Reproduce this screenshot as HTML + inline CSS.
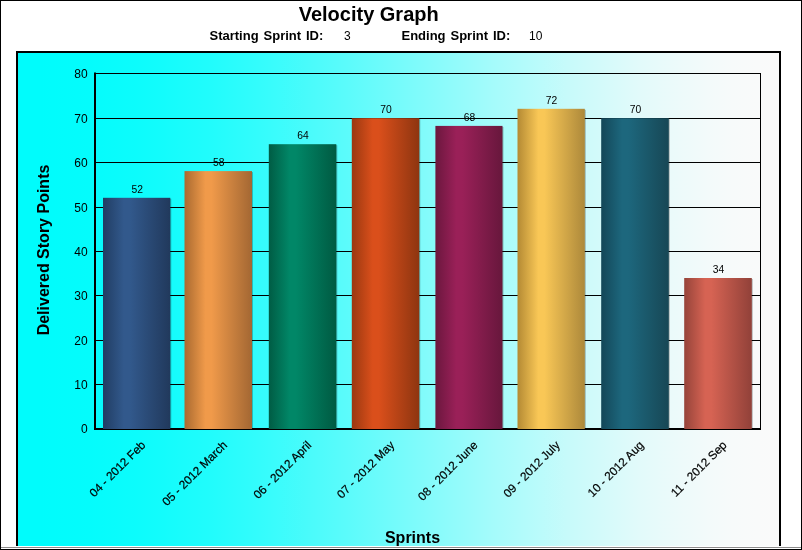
<!DOCTYPE html>
<html><head><meta charset="utf-8"><title>Velocity Graph</title>
<style>
html,body{margin:0;padding:0;background:#fff;}
body{width:802px;height:550px;overflow:hidden;position:relative;font-family:"Liberation Sans",Arial,sans-serif;}
svg{position:absolute;left:0;top:0;display:block;}
text{font-family:"Liberation Sans",Arial,sans-serif;fill:#000;}
</style></head><body>
<svg width="802" height="550" viewBox="0 0 802 550">
<defs>
<linearGradient id="bg" x1="0" y1="0" x2="1" y2="0">
<stop offset="0.0000" stop-color="#00fcfc"/>
<stop offset="0.0312" stop-color="#00fcfc"/>
<stop offset="0.0625" stop-color="#02fcfc"/>
<stop offset="0.0938" stop-color="#04fcfc"/>
<stop offset="0.1250" stop-color="#08fcfc"/>
<stop offset="0.1562" stop-color="#0cfcfc"/>
<stop offset="0.1875" stop-color="#12fcfc"/>
<stop offset="0.2188" stop-color="#19fcfc"/>
<stop offset="0.2500" stop-color="#20fcfc"/>
<stop offset="0.2812" stop-color="#29fcfc"/>
<stop offset="0.3125" stop-color="#32fcfc"/>
<stop offset="0.3438" stop-color="#3cfcfc"/>
<stop offset="0.3750" stop-color="#47fbfb"/>
<stop offset="0.4062" stop-color="#52fbfb"/>
<stop offset="0.4375" stop-color="#5dfbfb"/>
<stop offset="0.4688" stop-color="#69fbfb"/>
<stop offset="0.5000" stop-color="#75fbfb"/>
<stop offset="0.5312" stop-color="#81fbfb"/>
<stop offset="0.5625" stop-color="#8dfbfb"/>
<stop offset="0.5938" stop-color="#99fbfb"/>
<stop offset="0.6250" stop-color="#a5fbfb"/>
<stop offset="0.6562" stop-color="#b0fbfb"/>
<stop offset="0.6875" stop-color="#bbfbfb"/>
<stop offset="0.7188" stop-color="#c6fafa"/>
<stop offset="0.7500" stop-color="#cffafa"/>
<stop offset="0.7812" stop-color="#d8fafa"/>
<stop offset="0.8125" stop-color="#e1fafa"/>
<stop offset="0.8438" stop-color="#e8fafa"/>
<stop offset="0.8750" stop-color="#eefafa"/>
<stop offset="0.9062" stop-color="#f3fafa"/>
<stop offset="0.9375" stop-color="#f7fafa"/>
<stop offset="0.9688" stop-color="#f9fafa"/>
<stop offset="1.0000" stop-color="#fafafa"/>
</linearGradient>
<linearGradient id="g0" x1="0" y1="0" x2="1" y2="0"><stop offset="0" stop-color="#213d63"/><stop offset="0.31" stop-color="#32598c"/><stop offset="0.40" stop-color="#32598c"/><stop offset="1" stop-color="#21395c"/></linearGradient>
<linearGradient id="g1" x1="0" y1="0" x2="1" y2="0"><stop offset="0" stop-color="#a96a30"/><stop offset="0.31" stop-color="#f09a4a"/><stop offset="0.40" stop-color="#f09a4a"/><stop offset="1" stop-color="#a36733"/></linearGradient>
<linearGradient id="g2" x1="0" y1="0" x2="1" y2="0"><stop offset="0" stop-color="#005c44"/><stop offset="0.31" stop-color="#018767"/><stop offset="0.40" stop-color="#018767"/><stop offset="1" stop-color="#005a42"/></linearGradient>
<linearGradient id="g3" x1="0" y1="0" x2="1" y2="0"><stop offset="0" stop-color="#9a3810"/><stop offset="0.31" stop-color="#da4f1b"/><stop offset="0.40" stop-color="#da4f1b"/><stop offset="1" stop-color="#8e3510"/></linearGradient>
<linearGradient id="g4" x1="0" y1="0" x2="1" y2="0"><stop offset="0" stop-color="#6b173e"/><stop offset="0.31" stop-color="#9a2058"/><stop offset="0.40" stop-color="#9a2058"/><stop offset="1" stop-color="#67173c"/></linearGradient>
<linearGradient id="g5" x1="0" y1="0" x2="1" y2="0"><stop offset="0" stop-color="#b48a34"/><stop offset="0.31" stop-color="#f9c756"/><stop offset="0.40" stop-color="#f9c756"/><stop offset="1" stop-color="#ad893b"/></linearGradient>
<linearGradient id="g6" x1="0" y1="0" x2="1" y2="0"><stop offset="0" stop-color="#134758"/><stop offset="0.31" stop-color="#1d677d"/><stop offset="0.40" stop-color="#1d677d"/><stop offset="1" stop-color="#174755"/></linearGradient>
<linearGradient id="g7" x1="0" y1="0" x2="1" y2="0"><stop offset="0" stop-color="#96443a"/><stop offset="0.31" stop-color="#d66353"/><stop offset="0.40" stop-color="#d66353"/><stop offset="1" stop-color="#914139"/></linearGradient>
</defs>
<rect x="0" y="0" width="802" height="550" fill="#fff"/>
<rect x="17" y="52" width="763" height="494" fill="url(#bg)"/>
<rect x="16" y="51" width="2" height="495" fill="#000"/>
<rect x="779" y="51" width="2" height="495" fill="#000"/>
<rect x="16" y="51" width="765" height="2" fill="#000"/>
<rect x="96" y="384" width="665" height="1" fill="#000"/>
<rect x="96" y="340" width="665" height="1" fill="#000"/>
<rect x="96" y="295" width="665" height="1" fill="#000"/>
<rect x="96" y="251" width="665" height="1" fill="#000"/>
<rect x="96" y="207" width="665" height="1" fill="#000"/>
<rect x="96" y="162" width="665" height="1" fill="#000"/>
<rect x="96" y="118" width="665" height="1" fill="#000"/>
<rect x="96" y="73" width="665" height="1" fill="#000"/>
<rect x="760" y="73" width="1" height="356" fill="#000"/>
<text x="87.6" y="432.6" font-size="12" text-anchor="end">0</text>
<text x="87.6" y="388.6" font-size="12" text-anchor="end">10</text>
<text x="87.6" y="344.6" font-size="12" text-anchor="end">20</text>
<text x="87.6" y="299.6" font-size="12" text-anchor="end">30</text>
<text x="87.6" y="255.6" font-size="12" text-anchor="end">40</text>
<text x="87.6" y="211.6" font-size="12" text-anchor="end">50</text>
<text x="87.6" y="166.6" font-size="12" text-anchor="end">60</text>
<text x="87.6" y="122.6" font-size="12" text-anchor="end">70</text>
<text x="87.6" y="77.6" font-size="12" text-anchor="end">80</text>
<rect x="94" y="72.5" width="2" height="357.5" fill="#000"/>
<rect x="94" y="428" width="667" height="2" fill="#000"/>
<rect x="104.0" y="198.8" width="67.3" height="230.2" fill="#000" opacity="0.25"/>
<rect x="103.0" y="197.8" width="67.3" height="231.2" fill="url(#g0)"/>
<text x="137.2" y="192.6" font-size="10.3" text-anchor="middle">52</text>
<rect x="185.5" y="172.1" width="67.5" height="256.9" fill="#000" opacity="0.25"/>
<rect x="184.5" y="171.1" width="67.5" height="257.9" fill="url(#g1)"/>
<text x="218.8" y="165.9" font-size="10.3" text-anchor="middle">58</text>
<rect x="269.8" y="145.2" width="67.5" height="283.8" fill="#000" opacity="0.25"/>
<rect x="268.8" y="144.2" width="67.5" height="284.8" fill="url(#g2)"/>
<text x="303.1" y="139.0" font-size="10.3" text-anchor="middle">64</text>
<rect x="352.8" y="119.2" width="67.5" height="309.8" fill="#000" opacity="0.25"/>
<rect x="351.8" y="118.2" width="67.5" height="310.8" fill="url(#g3)"/>
<text x="386.1" y="113.0" font-size="10.3" text-anchor="middle">70</text>
<rect x="436.4" y="126.9" width="67.1" height="302.1" fill="#000" opacity="0.25"/>
<rect x="435.4" y="125.9" width="67.1" height="303.1" fill="url(#g4)"/>
<text x="469.4" y="120.7" font-size="10.3" text-anchor="middle">68</text>
<rect x="518.5" y="109.8" width="67.3" height="319.2" fill="#000" opacity="0.25"/>
<rect x="517.5" y="108.8" width="67.3" height="320.2" fill="url(#g5)"/>
<text x="551.6" y="103.6" font-size="10.3" text-anchor="middle">72</text>
<rect x="602.2" y="119.2" width="67.6" height="309.8" fill="#000" opacity="0.25"/>
<rect x="601.2" y="118.2" width="67.6" height="310.8" fill="url(#g6)"/>
<text x="635.5" y="113.0" font-size="10.3" text-anchor="middle">70</text>
<rect x="685.2" y="279.0" width="67.6" height="150.0" fill="#000" opacity="0.25"/>
<rect x="684.2" y="278.0" width="67.6" height="151.0" fill="url(#g7)"/>
<text x="718.5" y="272.8" font-size="10.3" text-anchor="middle">34</text>
<text transform="translate(146.2,445.8) rotate(-45)" font-size="11.8" text-anchor="end" stroke="#000" stroke-width="0.2">04 - 2012 Feb</text>
<text transform="translate(227.8,445.8) rotate(-45)" font-size="11.8" text-anchor="end" stroke="#000" stroke-width="0.2">05 - 2012 March</text>
<text transform="translate(312.1,445.8) rotate(-45)" font-size="11.8" text-anchor="end" stroke="#000" stroke-width="0.2">06 - 2012 April</text>
<text transform="translate(395.1,445.8) rotate(-45)" font-size="11.8" text-anchor="end" stroke="#000" stroke-width="0.2">07 - 2012 May</text>
<text transform="translate(478.4,445.8) rotate(-45)" font-size="11.8" text-anchor="end" stroke="#000" stroke-width="0.2">08 - 2012 June</text>
<text transform="translate(560.6,445.8) rotate(-45)" font-size="11.8" text-anchor="end" stroke="#000" stroke-width="0.2">09 - 2012 July</text>
<text transform="translate(644.5,445.8) rotate(-45)" font-size="11.8" text-anchor="end" stroke="#000" stroke-width="0.2">10 - 2012 Aug</text>
<text transform="translate(727.5,445.8) rotate(-45)" font-size="11.8" text-anchor="end" stroke="#000" stroke-width="0.2">11 - 2012 Sep</text>
<text x="368.7" y="21.2" font-size="20" font-weight="bold" text-anchor="middle">Velocity Graph</text>
<text x="209.5" y="39.7" font-size="13" font-weight="bold" word-spacing="1.3">Starting Sprint ID:</text>
<text x="344" y="39.7" font-size="12">3</text>
<text x="401.5" y="39.7" font-size="13" font-weight="bold" word-spacing="1.3">Ending Sprint ID:</text>
<text x="529" y="39.7" font-size="12">10</text>
<text x="412.5" y="543" font-size="16" font-weight="bold" text-anchor="middle">Sprints</text>
<text transform="translate(48.5,250) rotate(-90)" font-size="16" font-weight="bold" text-anchor="middle">Delivered Story Points</text>
<rect x="0" y="546" width="802" height="4" fill="#fff"/>
<rect x="0" y="547" width="802" height="1" fill="#8a8a8a"/>
<rect x="0" y="549" width="802" height="1" fill="#000"/>
<rect x="0" y="0" width="802" height="1" fill="#000"/>
<rect x="0" y="0" width="1" height="550" fill="#000"/>
<rect x="801" y="0" width="1" height="550" fill="#000"/>
</svg>
</body></html>
